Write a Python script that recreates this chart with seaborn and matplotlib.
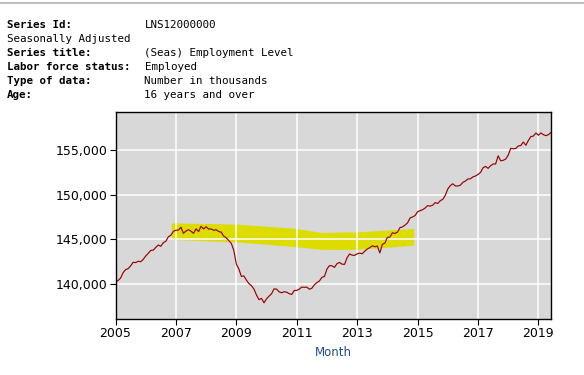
import pandas as pd
import numpy as np
import matplotlib
matplotlib.use('Agg')
import matplotlib.pyplot as plt
import seaborn as sns
from matplotlib.lines import Line2D

# Empleo mensual (miles), ene 2005 - jun 2019
empleo = [
    140245, 140385, 140654, 141254, 141609, 141714, 142026, 142434, 142401, 142548, 142499, 142752,
    143142, 143444, 143765, 143794, 144108, 144370, 144229, 144631, 144797, 145292, 145477, 145914,
    146032, 146043, 146368, 145686, 145952, 146079, 145926, 145685, 146193, 145885, 146483, 146173,
    146421, 146165, 146173, 146026, 146081, 145891, 145813, 145366, 145180, 144859, 144552, 143767,
    142221, 141687, 140854, 140902, 140438, 140038, 139817, 139433, 138768, 138242, 138381, 137892,
    138333, 138641, 138905, 139455, 139420, 139119, 139019, 139126, 139078, 138910, 138827, 139268,
    139287, 139422, 139655, 139622, 139653, 139409, 139524, 139904, 140154, 140335, 140747, 140836,
    141677, 142065, 142034, 141865, 142287, 142414, 142220, 142204, 142947, 143369, 143233, 143212,
    143384, 143464, 143393, 143676, 143919, 144075, 144285, 144179, 144270, 143485, 144443, 144586,
    145224, 145266, 145742, 145669, 145814, 146324, 146402, 146607, 146849, 147405, 147522, 147677,
    148104, 148231, 148333, 148523, 148795, 148739, 148840, 149136, 149031, 149340, 149500, 149942,
    150656, 151039, 151245, 150999, 150994, 151091, 151407, 151552, 151784, 151804, 152019, 152121,
    152293, 152516, 153037, 153197, 152976, 153266, 153465, 153466, 154380, 153825, 153876, 154021,
    154454, 155215, 155177, 155199, 155486, 155540, 155930, 155568, 156098, 156538, 156600, 156939,
    156694, 156949, 156748, 156645, 156758, 157005,
]
anio_inicio = 2005

# Banda amarilla resaltada (bordes aproximados)
banda_x = [2006.85, 2009.0, 2011.0, 2011.8, 2013.0, 2014.87]
banda_sup = [146860, 146720, 146230, 145780, 145850, 146230]
banda_inf = [145000, 144730, 144180, 143890, 143880, 144350]

ticks_y = [140000, 145000, 150000, 155000]
ticks_x = [2005, 2007, 2009, 2011, 2013, 2015, 2017, 2019]

encabezado = [
    ('Series Id:', 'LNS12000000', True),
    ('Seasonally Adjusted', '', False),
    ('Series title:', '(Seas) Employment Level', True),
    ('Labor force status:', 'Employed', True),
    ('Type of data:', 'Number in thousands', True),
    ('Age:', '16 years and over', True),
]

df = pd.DataFrame({
    'mes': anio_inicio + np.arange(len(empleo)) / 12.0,
    'empleo': empleo,
})

sns.set_style('white')
plt.rcParams['font.family'] = ['DejaVu Sans']
plt.rcParams['text.color'] = 'black'

fig = plt.figure(figsize=(5.84, 3.75), dpi=100)
ax = fig.add_axes([115.5 / 584, 1 - 319 / 375, (551 - 115.5) / 584, (319 - 112) / 375])
ax.set_facecolor('#D8D8D8')

ax.fill_between(banda_x, banda_inf, banda_sup, color='#DCDC00', linewidth=0, zorder=1)
sns.lineplot(data=df, x='mes', y='empleo', ax=ax, color='#990000', linewidth=0.85, zorder=2)

ax.set_xlim(2005, 2019 + 5 / 12)
ax.set_ylim(136070, 159300)
ax.set_xticks(ticks_x)
ax.set_xticklabels([str(t) for t in ticks_x])
ax.set_yticks(ticks_y)
ax.set_yticklabels([f'{t:,}' for t in ticks_y])
ax.set_axisbelow('line')
ax.grid(True, color='white', linewidth=1.1)
for s in ax.spines.values():
    s.set_color('black')
    s.set_linewidth(1.0)
ax.tick_params(axis='both', which='major', direction='out', length=4, width=0.8,
               color='black', labelsize=9, labelcolor='black', pad=2,
               bottom=True, left=True)
ax.set_xlabel('Month', color='#1F4E8C', fontsize=8.5, labelpad=4)
ax.set_ylabel('')

# encabezado de la serie
for i, (etiqueta, valor, negrita) in enumerate(encabezado):
    y = 1 - (25 + i * 14) / 375
    fig.text(7 / 584, y, etiqueta, family='DejaVu Sans Mono', fontsize=7.8, color='black',
             fontweight='bold' if negrita else 'normal', va='center', ha='left')
    if valor:
        fig.text(144.5 / 584, y, valor, family='DejaVu Sans Mono', fontsize=7.8,
                 color='black', va='center', ha='left')

# linea gris superior
fig.add_artist(Line2D([0, 1], [1 - 2.5 / 375, 1 - 2.5 / 375], color='#B4B4B4', linewidth=1.2))

fig.savefig('out.png', dpi=100, facecolor='white')
